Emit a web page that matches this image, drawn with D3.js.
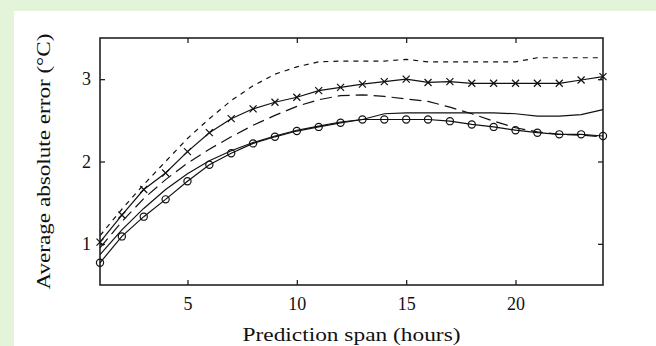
<!DOCTYPE html>
<html>
<head>
<meta charset="utf-8">
<script src="https://cdn.jsdelivr.net/npm/d3@7"></script>
<style>
  html, body { margin: 0; padding: 0; background: #e4f4da; }
  svg { display: block; }
</style>
</head>
<body>
<script>
// prediction span in hours
const hours = d3.range(1, 25);
// average absolute error (°C) for the five curves
const dashedTop = [1.10, 1.42, 1.72, 2.00, 2.28, 2.52, 2.74, 2.92, 3.06, 3.15, 3.21, 3.22, 3.22, 3.22, 3.24, 3.21, 3.21, 3.21, 3.21, 3.21, 3.26, 3.26, 3.26, 3.26];
const crossLine = [1.02, 1.35, 1.66, 1.86, 2.12, 2.35, 2.52, 2.64, 2.72, 2.78, 2.86, 2.90, 2.94, 2.97, 3.00, 2.96, 2.97, 2.95, 2.95, 2.95, 2.95, 2.95, 2.99, 3.03];
const longDash = [0.95, 1.27, 1.55, 1.78, 1.98, 2.15, 2.30, 2.44, 2.56, 2.67, 2.75, 2.80, 2.81, 2.79, 2.76, 2.73, 2.66, 2.58, 2.49, 2.41, 2.36, 2.33, 2.32, 2.30];
const plainLine = [0.87, 1.17, 1.43, 1.66, 1.85, 2.01, 2.13, 2.23, 2.31, 2.38, 2.43, 2.48, 2.51, 2.58, 2.59, 2.59, 2.59, 2.59, 2.59, 2.58, 2.55, 2.55, 2.57, 2.63];
const circleLine = [0.77, 1.09, 1.33, 1.54, 1.76, 1.96, 2.10, 2.22, 2.30, 2.37, 2.42, 2.47, 2.51, 2.51, 2.51, 2.51, 2.49, 2.45, 2.42, 2.38, 2.35, 2.33, 2.33, 2.31];
const xTicks = [5, 10, 15, 20];
const yTicks = [1, 2, 3];

const W = 656, H = 346;
const margin = { top: 38, right: 53, bottom: 61, left: 100 };
const width = W - margin.left - margin.right;
const height = H - margin.top - margin.bottom;
const font = '"Liberation Serif", "DejaVu Serif", "Times New Roman", serif';

const svg = d3.select('body').append('svg')
    .attr('width', W)
    .attr('height', H);

// white panel on the green page
svg.append('rect')
    .attr('x', 14).attr('y', 11)
    .attr('width', W - 14).attr('height', H - 11)
    .attr('fill', '#ffffff');

const g = svg.append('g')
    .attr('transform', `translate(${margin.left}, ${margin.top})`);

const x = d3.scaleLinear().domain([1, 24]).range([0, width]);
const y = d3.scaleLinear().domain([0.5, 3.5]).range([height, 0]);

// axes: ticks point inward, mirrored on top and right
const xAxis = d3.axisBottom(x).tickValues(xTicks).tickSize(-5).tickPadding(12).tickFormat(d3.format('d'));
const yAxis = d3.axisLeft(y).tickValues(yTicks).tickSize(-5).tickPadding(9).tickFormat(d3.format('d'));

const gx = g.append('g').attr('transform', `translate(0, ${height})`).call(xAxis);
const gy = g.append('g').call(yAxis);
g.append('g').call(d3.axisTop(x).tickValues(xTicks).tickSize(-5).tickFormat(''));
g.append('g').attr('transform', `translate(${width}, 0)`)
    .call(d3.axisRight(y).tickValues(yTicks).tickSize(-5).tickFormat(''));

g.selectAll('.domain').remove();
g.selectAll('.tick line').attr('stroke', '#222').attr('stroke-width', 1.3);
[gx, gy].forEach(a => {
    a.attr('font-family', font).attr('font-size', 18);
    a.selectAll('text')
        .style('font-family', font)
        .attr('fill', '#111');
});

g.append('rect')
    .attr('width', width).attr('height', height)
    .attr('fill', 'none')
    .attr('stroke', '#222')
    .attr('stroke-width', 1.6);

const line = d3.line()
    .x((d, i) => x(hours[i]))
    .y(d => y(d));

const series = [
    { values: dashedTop, dash: '5,5' },
    { values: longDash, dash: '12,6' },
    { values: plainLine, dash: null },
    { values: crossLine, dash: null },
    { values: circleLine, dash: null },
];

series.forEach(s => {
    g.append('path')
        .datum(s.values)
        .attr('fill', 'none')
        .attr('stroke', '#111')
        .attr('stroke-width', 1.2)
        .attr('stroke-dasharray', s.dash)
        .attr('d', line);
});

// x markers
const cross = g.append('g').selectAll('g')
    .data(crossLine)
    .join('g')
    .attr('transform', (d, i) => `translate(${x(hours[i])}, ${y(d)})`);
cross.append('path')
    .attr('d', 'M-3.5,-3.5L3.5,3.5M-3.5,3.5L3.5,-3.5')
    .attr('stroke', '#111')
    .attr('stroke-width', 1.2);

// circle markers
g.append('g').selectAll('circle')
    .data(circleLine)
    .join('circle')
    .attr('cx', (d, i) => x(hours[i]))
    .attr('cy', d => y(d))
    .attr('r', 3.6)
    .attr('fill', 'none')
    .attr('stroke', '#111')
    .attr('stroke-width', 1.2);

// axis labels
svg.append('text')
    .attr('x', margin.left + width / 2)
    .attr('y', 341)
    .attr('text-anchor', 'middle')
    .style('font-family', font)
    .attr('font-size', 18)
    .attr('fill', '#111')
    .attr('textLength', 218)
    .attr('lengthAdjust', 'spacingAndGlyphs')
    .text('Prediction span (hours)');

svg.append('text')
    .attr('transform', `translate(50, ${margin.top + height / 2}) rotate(-90)`)
    .attr('text-anchor', 'middle')
    .style('font-family', font)
    .attr('font-size', 18)
    .attr('fill', '#111')
    .attr('textLength', 256)
    .attr('lengthAdjust', 'spacingAndGlyphs')
    .text('Average absolute error (°C)');
</script>
</body>
</html>
